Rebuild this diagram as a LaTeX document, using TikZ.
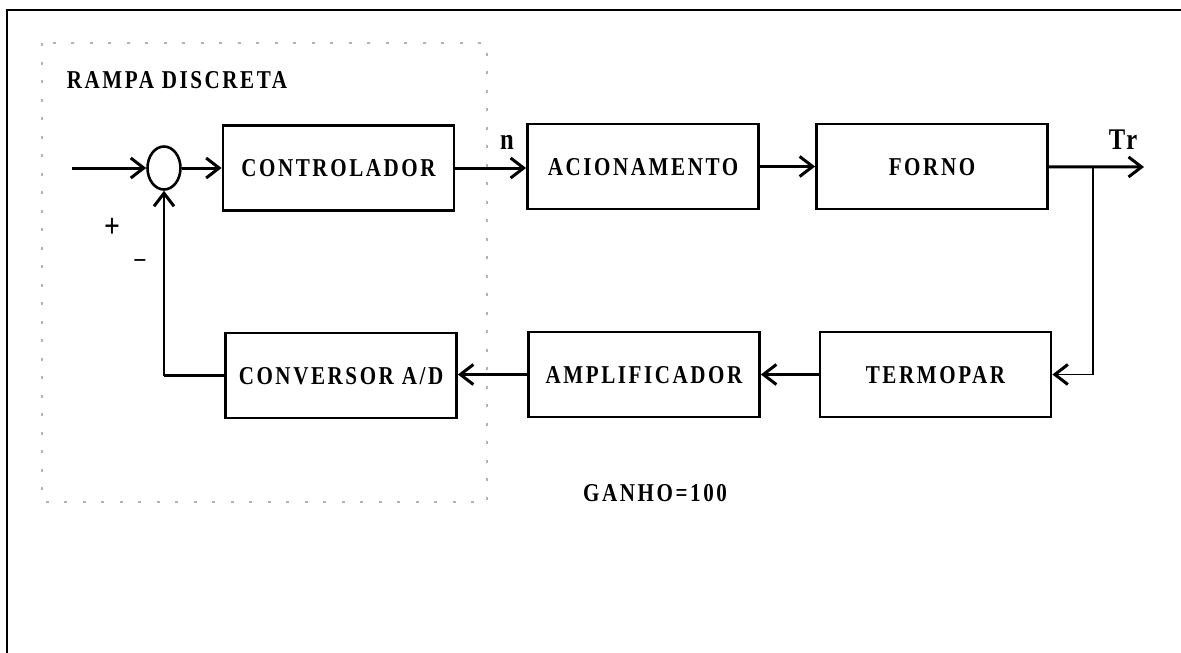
\documentclass[tikz,border=0pt]{standalone}
\usepackage{fontspec}
\setmainfont{Liberation Serif}
\newfontfamily\rotulo[FakeStretch=0.82]{Liberation Serif}
\usetikzlibrary{arrows.meta}
\usetikzlibrary{shapes.geometric}

\begin{document}
\begin{tikzpicture}[x=1pt,y=-1pt]
	\tikzstyle{seta}=[-{Straight Barb[length=13pt,width=20pt]},line width=3pt]
	\tikzstyle{retorno}=[-{Straight Barb[length=13pt,width=20pt,line width=3pt]},line width=1.8pt]
	\tikzset{bloco/.style={draw,line width=2.8pt,minimum height=85pt,minimum width=231pt,inner sep=0pt,text depth=0pt,
		font=\fontsize{25.7}{27}\rotulo\bfseries\addfontfeature{LetterSpace=10}}}
	\tikzset{texto/.style={inner sep=0pt,font=\fontsize{#1}{#1}\rotulo\bfseries\addfontfeature{LetterSpace=10}}}
	\useasboundingbox (0,0) rectangle (1181,653);
	% moldura
	\draw[line width=2.2pt] (1181,10) -- (7,10) -- (7,653);
	\draw[gray!60,line width=1.5pt,dash pattern=on 3pt off 15.5pt] (42,43) rectangle (487,502);
	\node[texto=25.7] (rampa) at (177,80) {RAMPA DISCRETA};
	% blocos
	\node[draw,ellipse,line width=2.6pt,minimum width=33pt,minimum height=43pt,inner sep=0pt] (soma) at (164,168) {};
	\node[bloco] (ctrl) at (338.5,168) {CONTROLADOR};
	\node[bloco] (acion) at (643,166.5) {ACIONAMENTO};
	\node[bloco] (forno) at (932,166.5) {FORNO};
	\node[bloco] (termo) at (935.5,374.5) {TERMOPAR};
	\node[bloco] (ampl) at (644,374.5) {AMPLIFICADOR};
	\node[bloco] (conv) at (341,375.5) {CONVERSOR A/D};
	\coordinate (ent) at (72,168);
	\coordinate (ramo) at (1093,167);
	\coordinate (saida) at (1144,167);
	% ligacoes
	\draw[seta] (ent) -- (soma);
	\draw[seta] (soma) -- (ctrl.west |- soma);
	\draw[seta] (ctrl) -- (acion.west |- ctrl);
	\draw[seta] (acion) -- (forno);
	\draw[seta] (forno) -- (saida);
	\draw[retorno] (ramo) |- (termo);
	\draw[seta] (termo) -- (ampl);
	\draw[seta] (ampl) -- (conv.east |- ampl);
	\draw[line width=3pt] (conv) -- (164,375.5);
	\draw[retorno] (164,375.5) -- (soma);
	% rotulos
	\node[texto=30] (rotn) at (507,142) {n};
	\node[texto=30] (rottr) at (1123,140) {Tr};
	\node[texto=34] (mais) at (112,228) {+};
	\node[texto=26] (menos) at (140,263) {–};
	\node[texto=25.7] (ganho) at (655,493) {GANHO=100};
\end{tikzpicture}
\end{document}
